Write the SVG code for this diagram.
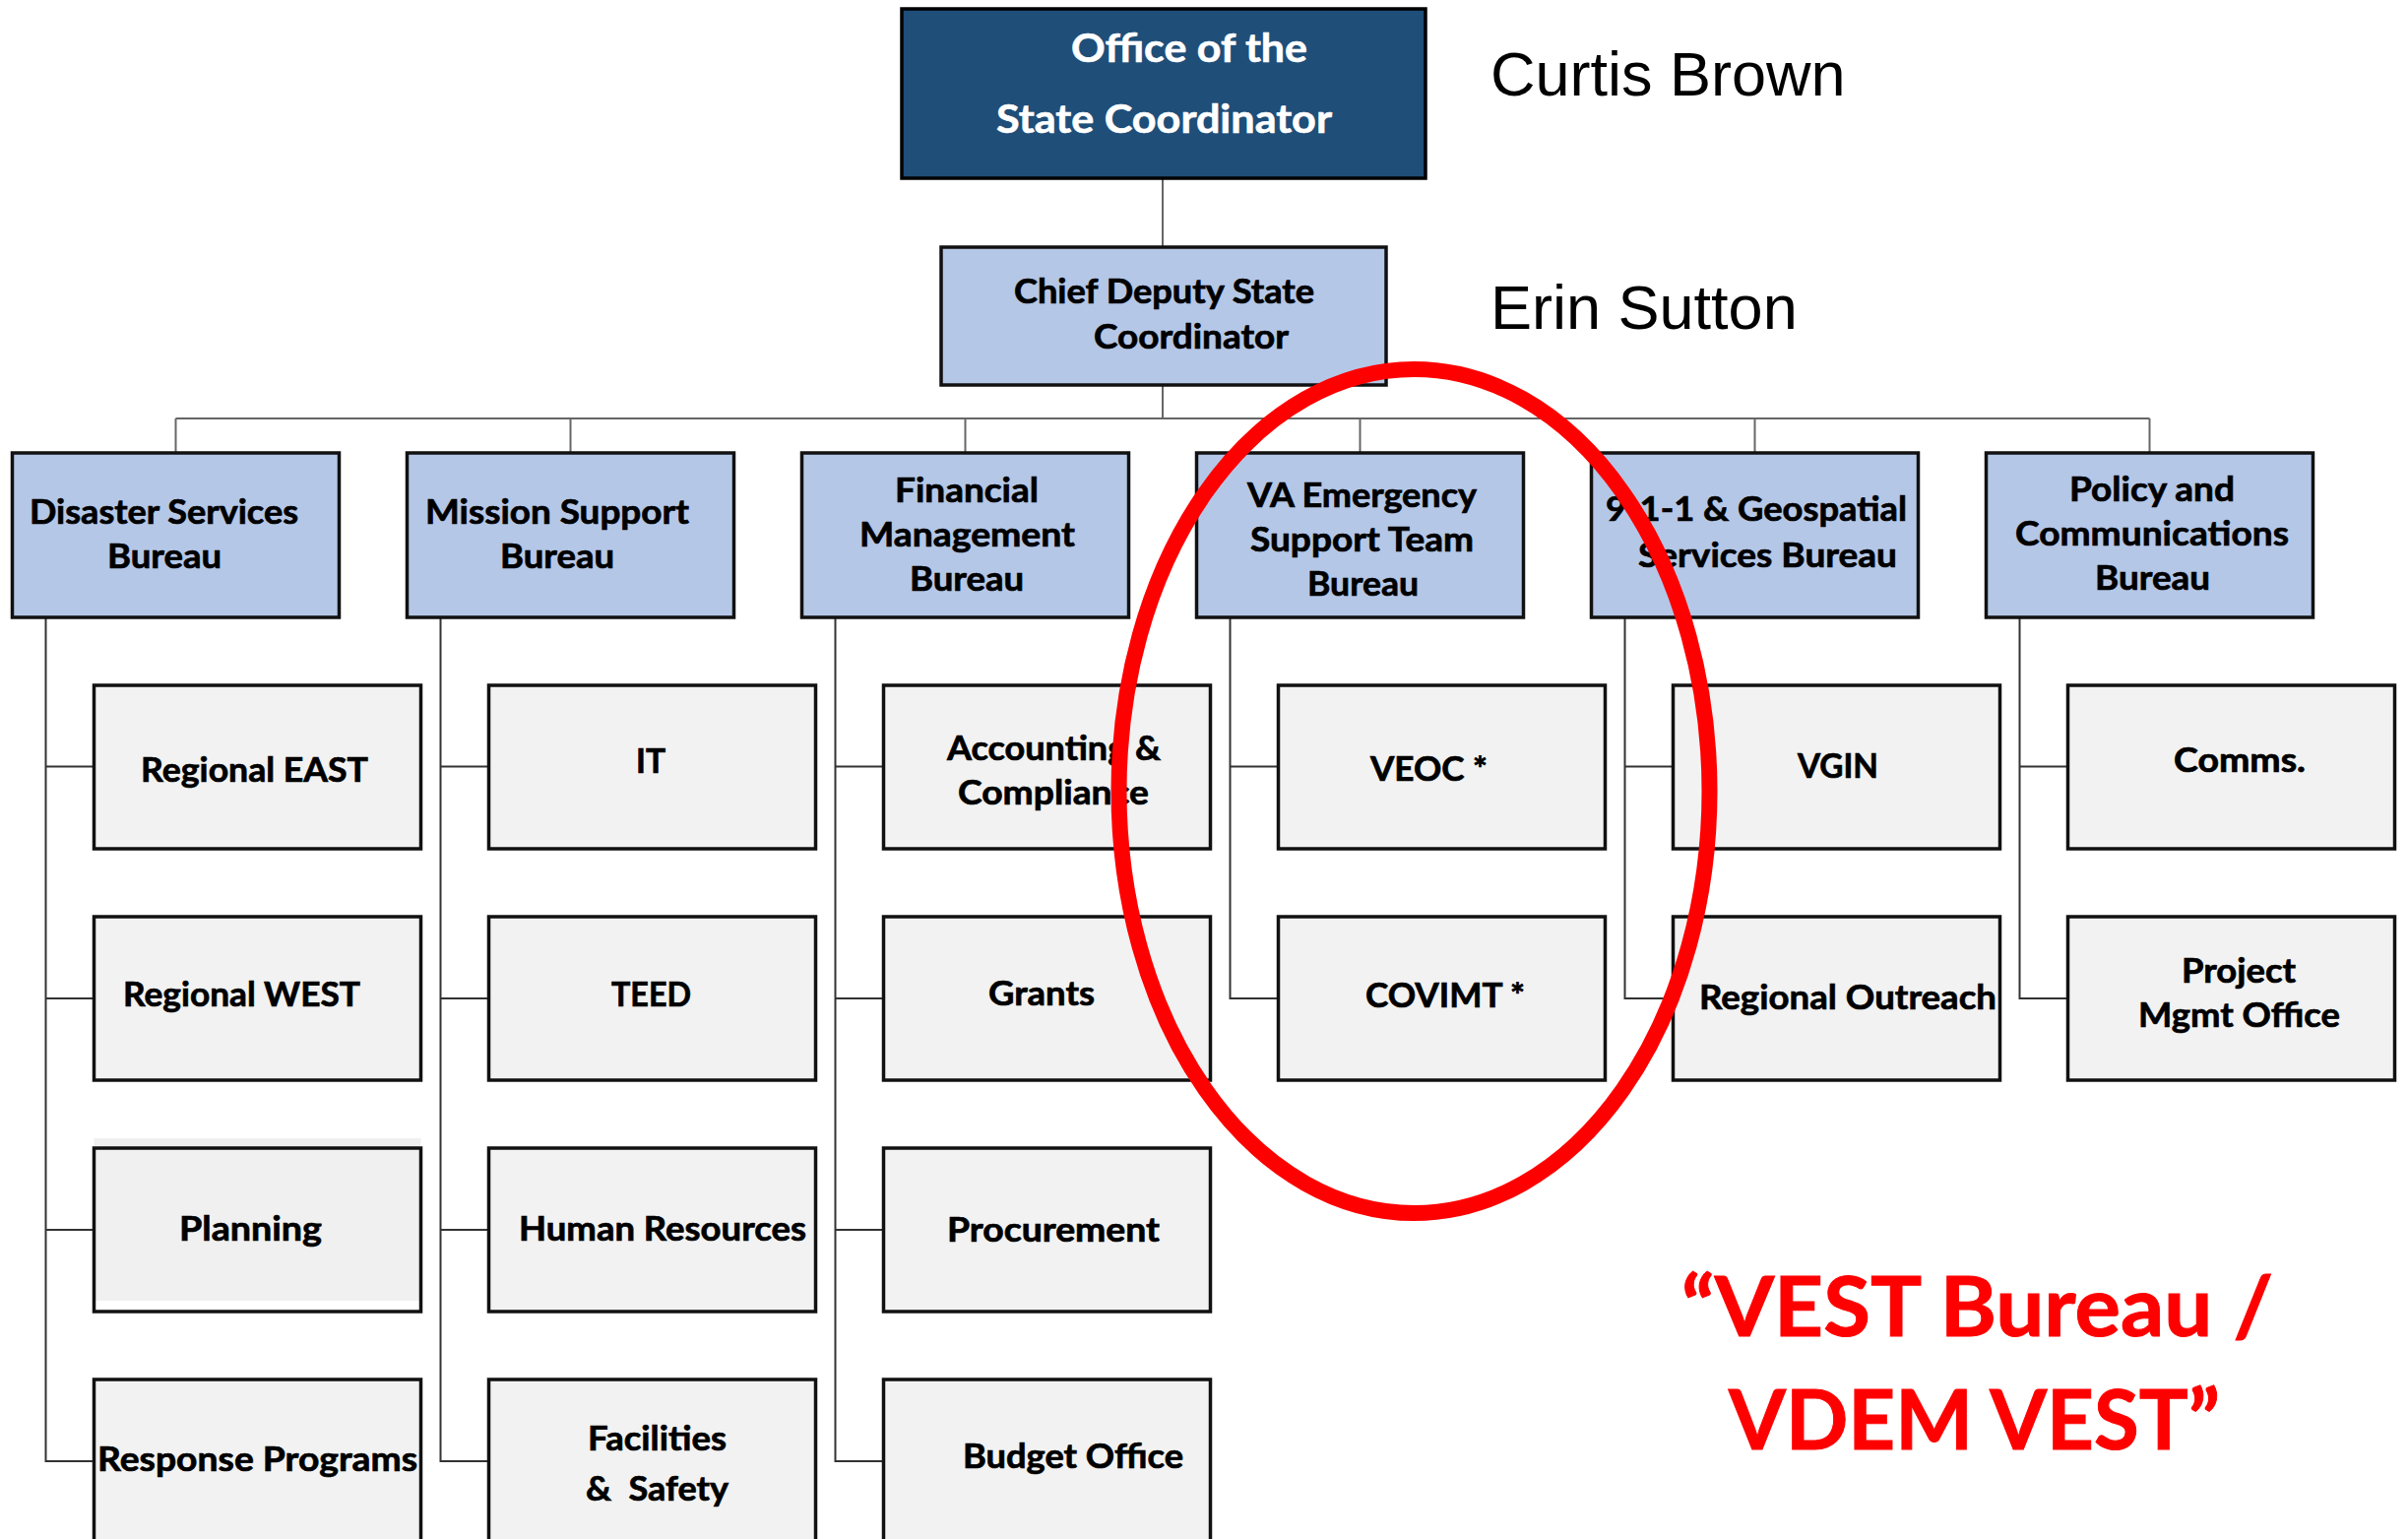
<svg xmlns="http://www.w3.org/2000/svg" width="2446" height="1563" viewBox="0 0 2446 1563">
<style>
.bg{fill:#ffffff}
.top{fill:#1F4E79;stroke:#000;stroke-width:3.5}
.bur{fill:#B4C7E7;stroke:#111;stroke-width:3.5}
.chi{fill:#F2F2F2;stroke:#111;stroke-width:3.5}
.con{stroke:#333;stroke-width:2;fill:none}
.con2{stroke:#666;stroke-width:2;fill:none}
.t{font-family:Lato,"Liberation Sans",sans-serif;font-weight:bold;font-size:35px;fill:#000;stroke:#000;stroke-width:0.7}
.tw{font-family:Lato,"Liberation Sans",sans-serif;font-weight:bold;font-size:40px;fill:#fff;stroke:#fff;stroke-width:0.6}
.nm{font-family:"Liberation Sans",Arial,sans-serif;font-size:63px;fill:#000}
.red{font-family:Lato,"Liberation Sans",sans-serif;font-weight:bold;font-size:84px;fill:#FF0000;stroke:#FF0000;stroke-width:1}
.oval{fill:none;stroke:#FF0000;stroke-width:16}
</style>
<rect class="bg" x="0" y="0" width="2446" height="1563"/>

<g id="connectors">
  <line class="con2" x1="1181" y1="181" x2="1181" y2="251"/>
  <line class="con2" x1="1181" y1="391" x2="1181" y2="425"/>
  <line class="con2" x1="178.5" y1="425" x2="2183.5" y2="425"/>
  <line class="con2" x1="178.5" y1="425" x2="178.5" y2="460"/>
  <line class="con2" x1="579.5" y1="425" x2="579.5" y2="460"/>
  <line class="con2" x1="980.5" y1="425" x2="980.5" y2="460"/>
  <line class="con2" x1="1381.5" y1="425" x2="1381.5" y2="460"/>
  <line class="con2" x1="1782.5" y1="425" x2="1782.5" y2="460"/>
  <line class="con2" x1="2183.5" y1="425" x2="2183.5" y2="460"/>
  <path class="con" d="M46.5 627 V1484 H95.5 M46.5 778.5 H95.5 M46.5 1014 H95.5 M46.5 1249 H95.5"/>
  <path class="con" d="M447.5 627 V1484 H496.5 M447.5 778.5 H496.5 M447.5 1014 H496.5 M447.5 1249 H496.5"/>
  <path class="con" d="M848.5 627 V1484 H897.5 M848.5 778.5 H897.5 M848.5 1014 H897.5 M848.5 1249 H897.5"/>
  <path class="con" d="M1249.5 627 V1014 H1298.5 M1249.5 778.5 H1298.5"/>
  <path class="con" d="M1650.5 627 V1014 H1699.5 M1650.5 778.5 H1699.5"/>
  <path class="con" d="M2051.5 627 V1014 H2100.5 M2051.5 778.5 H2100.5"/>
</g>

<g id="office">
  <rect class="top" x="916" y="9" width="532" height="172"/>
  <text class="tw" x="1088" y="63" textLength="240" lengthAdjust="spacingAndGlyphs">Office of the</text>
  <text class="tw" x="1012" y="135" textLength="341" lengthAdjust="spacingAndGlyphs">State Coordinator</text>
</g>
<g id="chief">
  <rect class="bur" x="956" y="251" width="452" height="140"/>
  <text class="t" x="1030" y="308" textLength="305" lengthAdjust="spacingAndGlyphs">Chief Deputy State</text>
  <text class="t" x="1111" y="354" textLength="198" lengthAdjust="spacingAndGlyphs">Coordinator</text>
</g>
<g id="names">
  <text class="nm" x="1514" y="97">Curtis Brown</text>
  <text class="nm" x="1514" y="334">Erin Sutton</text>
</g>

<g id="disaster-services">
  <rect class="bur" x="12.5" y="460" width="332" height="167"/>
  <text class="t" x="30" y="532" textLength="273" lengthAdjust="spacingAndGlyphs">Disaster Services</text>
  <text class="t" x="109" y="577" textLength="116" lengthAdjust="spacingAndGlyphs">Bureau</text>
</g>
<g id="mission-support">
  <rect class="bur" x="413.5" y="460" width="332" height="167"/>
  <text class="t" x="432" y="532" textLength="268" lengthAdjust="spacingAndGlyphs">Mission Support</text>
  <text class="t" x="508" y="577" textLength="116" lengthAdjust="spacingAndGlyphs">Bureau</text>
</g>
<g id="financial">
  <rect class="bur" x="814.5" y="460" width="332" height="167"/>
  <text class="t" x="909" y="510" textLength="146" lengthAdjust="spacingAndGlyphs">Financial</text>
  <text class="t" x="873" y="555" textLength="219" lengthAdjust="spacingAndGlyphs">Management</text>
  <text class="t" x="924" y="600" textLength="116" lengthAdjust="spacingAndGlyphs">Bureau</text>
</g>
<g id="vest">
  <rect class="bur" x="1215.5" y="460" width="332" height="167"/>
  <text class="t" x="1267" y="515" textLength="233" lengthAdjust="spacingAndGlyphs">VA Emergency</text>
  <text class="t" x="1270" y="560" textLength="227" lengthAdjust="spacingAndGlyphs">Support Team</text>
  <text class="t" x="1328" y="605" textLength="113" lengthAdjust="spacingAndGlyphs">Bureau</text>
</g>
<g id="geospatial">
  <rect class="bur" x="1616.5" y="460" width="332" height="167"/>
  <text class="t" x="1631" y="529" textLength="306" lengthAdjust="spacingAndGlyphs">9-1-1 &amp; Geospatial</text>
  <text class="t" x="1664" y="576" textLength="263" lengthAdjust="spacingAndGlyphs">Services Bureau</text>
</g>
<g id="policy">
  <rect class="bur" x="2017.5" y="460" width="332" height="167"/>
  <text class="t" x="2102" y="509" textLength="168" lengthAdjust="spacingAndGlyphs">Policy and</text>
  <text class="t" x="2047" y="554" textLength="278" lengthAdjust="spacingAndGlyphs">Communications</text>
  <text class="t" x="2128" y="599" textLength="117" lengthAdjust="spacingAndGlyphs">Bureau</text>
</g>

<g id="regional-east">
  <rect class="chi" x="95.5" y="696" width="332" height="166"/>
  <text class="t" x="143" y="794" textLength="231" lengthAdjust="spacingAndGlyphs">Regional EAST</text>
</g>
<g id="regional-west">
  <rect class="chi" x="95.5" y="931" width="332" height="166"/>
  <text class="t" x="125" y="1022" textLength="241" lengthAdjust="spacingAndGlyphs">Regional WEST</text>
</g>
<g id="planning">
  <rect x="95.5" y="1156" width="332" height="165" fill="#F0F0F0"/>
  <rect x="95.5" y="1166" width="332" height="166" fill="none" stroke="#111" stroke-width="3.5"/>
  <text class="t" x="182" y="1260" textLength="145" lengthAdjust="spacingAndGlyphs">Planning</text>
</g>
<g id="response-programs">
  <rect class="chi" x="95.5" y="1401" width="332" height="166"/>
  <text class="t" x="99" y="1494" textLength="325" lengthAdjust="spacingAndGlyphs">Response Programs</text>
</g>

<g id="it">
  <rect class="chi" x="496.5" y="696" width="332" height="166"/>
  <text class="t" x="646" y="785" textLength="30" lengthAdjust="spacingAndGlyphs">IT</text>
</g>
<g id="teed">
  <rect class="chi" x="496.5" y="931" width="332" height="166"/>
  <text class="t" x="621" y="1022" textLength="81" lengthAdjust="spacingAndGlyphs">TEED</text>
</g>
<g id="human-resources">
  <rect class="chi" x="496.5" y="1166" width="332" height="166"/>
  <text class="t" x="527" y="1260" textLength="292" lengthAdjust="spacingAndGlyphs">Human Resources</text>
</g>
<g id="facilities-safety">
  <rect class="chi" x="496.5" y="1401" width="332" height="166"/>
  <text class="t" x="597" y="1473" textLength="141" lengthAdjust="spacingAndGlyphs">Facilities</text>
  <text class="t" x="595" y="1524" textLength="145" lengthAdjust="spacingAndGlyphs" xml:space="preserve">&amp;  Safety</text>
</g>

<g id="accounting-compliance">
  <rect class="chi" x="897.5" y="696" width="332" height="166"/>
  <text class="t" x="962" y="772" textLength="217" lengthAdjust="spacingAndGlyphs">Accounting &amp;</text>
  <text class="t" x="973" y="817" textLength="194" lengthAdjust="spacingAndGlyphs">Compliance</text>
</g>
<g id="grants">
  <rect class="chi" x="897.5" y="931" width="332" height="166"/>
  <text class="t" x="1004" y="1021" textLength="108" lengthAdjust="spacingAndGlyphs">Grants</text>
</g>
<g id="procurement">
  <rect class="chi" x="897.5" y="1166" width="332" height="166"/>
  <text class="t" x="962" y="1261" textLength="216" lengthAdjust="spacingAndGlyphs">Procurement</text>
</g>
<g id="budget-office">
  <rect class="chi" x="897.5" y="1401" width="332" height="166"/>
  <text class="t" x="978" y="1491" textLength="224" lengthAdjust="spacingAndGlyphs">Budget Office</text>
</g>

<g id="veoc">
  <rect class="chi" x="1298.5" y="696" width="332" height="166"/>
  <text class="t" x="1392" y="793" textLength="119" lengthAdjust="spacingAndGlyphs">VEOC *</text>
</g>
<g id="covimt">
  <rect class="chi" x="1298.5" y="931" width="332" height="166"/>
  <text class="t" x="1387" y="1023" textLength="162" lengthAdjust="spacingAndGlyphs">COVIMT *</text>
</g>

<g id="vgin">
  <rect class="chi" x="1699.5" y="696" width="332" height="166"/>
  <text class="t" x="1826" y="790" textLength="82" lengthAdjust="spacingAndGlyphs">VGIN</text>
</g>
<g id="regional-outreach">
  <rect class="chi" x="1699.5" y="931" width="332" height="166"/>
  <text class="t" x="1726" y="1025" textLength="302" lengthAdjust="spacingAndGlyphs">Regional Outreach</text>
</g>

<g id="comms">
  <rect class="chi" x="2100.5" y="696" width="332" height="166"/>
  <text class="t" x="2208" y="784" textLength="134" lengthAdjust="spacingAndGlyphs">Comms.</text>
</g>
<g id="project-mgmt">
  <rect class="chi" x="2100.5" y="931" width="332" height="166"/>
  <text class="t" x="2216" y="998" textLength="116" lengthAdjust="spacingAndGlyphs">Project</text>
  <text class="t" x="2172" y="1043" textLength="205" lengthAdjust="spacingAndGlyphs">Mgmt Office</text>
</g>

<g id="highlight">
  <ellipse class="oval" cx="1436.5" cy="803.5" rx="300" ry="428.5"/>
  <text class="red" x="1708" y="1357" textLength="601" lengthAdjust="spacingAndGlyphs">“VEST Bureau /</text>
  <text class="red" x="1756" y="1472" textLength="499" lengthAdjust="spacingAndGlyphs">VDEM VEST”</text>
</g>
</svg>
